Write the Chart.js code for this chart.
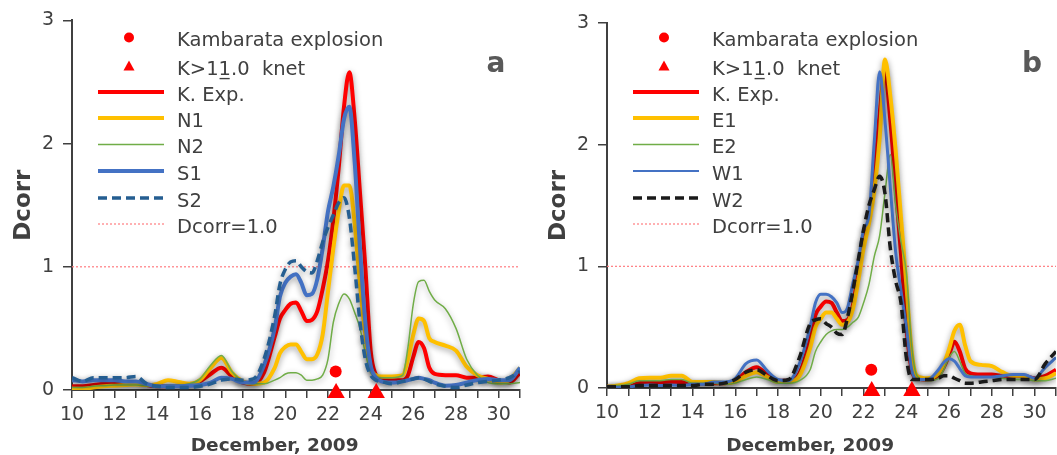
<!DOCTYPE html>
<html>
<head>
<meta charset="utf-8">
<script src="https://cdn.jsdelivr.net/npm/chart.js@4.4.0/dist/chart.umd.min.js"></script>
<style>
    html, body { margin: 0; padding: 0; background: #ffffff; overflow: hidden; width: 1057px; height: 455px; }
    canvas { position: absolute; top: 0; }
    #chartA { left: 0; }
    #chartB { left: 530px; }
</style>
</head>
<body>
<canvas id="chartA" width="530" height="455"></canvas>
<canvas id="chartB" width="536" height="455"></canvas>
<script>
// days of December 2009 (denser around the main event)
const days = [10, 10.5, 11, 11.5, 12, 12.5, 13, 13.5, 14, 14.5, 15, 15.5, 16, 16.5, 17, 17.5, 18, 18.5, 19, 19.5,
    19.75, 20, 20.25, 20.5, 20.75, 21, 21.25, 21.5, 21.75, 22, 22.25, 22.5, 22.75, 23, 23.25, 23.5, 23.75, 24, 24.25, 24.5,
    25, 25.5, 25.75, 26, 26.25, 26.5, 26.75, 27,
    27.5, 28, 28.5, 29, 29.5, 30, 30.5, 31];

// panel a
const kExpA = [0.03, 0.03, 0.04, 0.05, 0.05, 0.055, 0.05, 0.04, 0.03, 0.03, 0.035, 0.04, 0.07, 0.13, 0.18, 0.11, 0.06, 0.05, 0.14, 0.43,
    0.58, 0.65, 0.70, 0.71, 0.64, 0.56, 0.57, 0.64, 0.82, 1.05, 1.38, 1.8, 2.3, 2.58, 2.2, 1.6, 1.0, 0.32, 0.12, 0.08,
    0.08, 0.08, 0.12, 0.27, 0.39, 0.34, 0.18, 0.13,
    0.12, 0.12, 0.1, 0.1, 0.11, 0.08, 0.06, 0.14];
const n1 = [0.01, 0.01, 0.02, 0.03, 0.035, 0.04, 0.045, 0.04, 0.05, 0.08, 0.065, 0.05, 0.08, 0.18, 0.26, 0.14, 0.07, 0.05, 0.06, 0.18,
    0.3, 0.35, 0.37, 0.37, 0.31, 0.25, 0.25, 0.29, 0.45, 0.8, 1.15, 1.45, 1.66, 1.66, 1.35, 0.85, 0.45, 0.18, 0.12, 0.11,
    0.11, 0.12, 0.25, 0.45, 0.58, 0.56, 0.42, 0.39,
    0.36, 0.32, 0.19, 0.12, 0.09, 0.06, 0.08, 0.18];
const n2 = [0.02, 0.02, 0.03, 0.035, 0.04, 0.04, 0.04, 0.035, 0.03, 0.04, 0.04, 0.05, 0.09, 0.2, 0.28, 0.15, 0.07, 0.05, 0.05, 0.08,
    0.1, 0.13, 0.14, 0.14, 0.12, 0.08, 0.08, 0.09, 0.12, 0.25, 0.55, 0.7, 0.78, 0.74, 0.63, 0.5, 0.3, 0.14, 0.11, 0.1,
    0.1, 0.12, 0.35, 0.7, 0.88, 0.89, 0.8, 0.73,
    0.66, 0.5, 0.25, 0.12, 0.06, 0.05, 0.05, 0.06];
const s1 = [0.08, 0.07, 0.08, 0.08, 0.08, 0.07, 0.07, 0.05, 0.03, 0.03, 0.03, 0.035, 0.04, 0.06, 0.1, 0.09, 0.06, 0.06, 0.2, 0.5,
    0.76, 0.87, 0.92, 0.94, 0.87, 0.77, 0.78, 0.9, 1.15, 1.45, 1.65, 1.9, 2.2, 2.3, 1.85, 1.15, 0.55, 0.2, 0.1, 0.07,
    0.06, 0.07, 0.08, 0.09, 0.1, 0.09, 0.08, 0.06,
    0.035, 0.04, 0.06, 0.08, 0.09, 0.08, 0.08, 0.18];
const s2 = [0.1, 0.07, 0.1, 0.1, 0.1, 0.1, 0.11, 0.05, 0.03, 0.02, 0.02, 0.02, 0.03, 0.05, 0.08, 0.09, 0.08, 0.09, 0.25, 0.6,
    0.86, 0.98, 1.04, 1.05, 1.0, 0.96, 0.95, 1.05, 1.2, 1.32, 1.42, 1.52, 1.56, 1.4, 1.0, 0.55, 0.25, 0.12, 0.08, 0.07,
    0.05, 0.07, 0.08, 0.09, 0.1, 0.09, 0.07, 0.05,
    0.03, 0.02, 0.04, 0.06, 0.07, 0.08, 0.1, 0.15];

// panel b
const kExpB = [0.01, 0.01, 0.02, 0.04, 0.05, 0.05, 0.05, 0.05, 0.04, 0.04, 0.04, 0.04, 0.06, 0.13, 0.17, 0.11, 0.06, 0.06, 0.12, 0.4,
    0.6, 0.67, 0.71, 0.7, 0.62, 0.55, 0.56, 0.68, 0.95, 1.2, 1.38, 1.75, 2.25, 2.6, 2.2, 1.65, 1.1, 0.5, 0.15, 0.08,
    0.07, 0.1, 0.17, 0.27, 0.38, 0.3, 0.16, 0.12,
    0.11, 0.11, 0.1, 0.1, 0.1, 0.08, 0.1, 0.15];
const e1 = [0.01, 0.02, 0.04, 0.08, 0.085, 0.085, 0.1, 0.1, 0.05, 0.05, 0.05, 0.04, 0.05, 0.1, 0.13, 0.09, 0.05, 0.05, 0.1, 0.33,
    0.5, 0.57, 0.62, 0.62, 0.57, 0.52, 0.54, 0.65, 0.88, 1.15, 1.35, 1.62, 2.05, 2.7, 2.4, 1.95, 1.4, 0.85, 0.3, 0.1,
    0.08, 0.12, 0.2, 0.32, 0.47, 0.52, 0.35, 0.22,
    0.19, 0.18, 0.13, 0.1, 0.1, 0.07, 0.08, 0.12];
const e2 = [0.02, 0.02, 0.03, 0.06, 0.06, 0.06, 0.07, 0.07, 0.04, 0.04, 0.04, 0.03, 0.04, 0.07, 0.09, 0.07, 0.04, 0.04, 0.06, 0.15,
    0.3, 0.38, 0.44, 0.47, 0.48, 0.48, 0.5, 0.54, 0.58, 0.7, 0.85, 1.08, 1.25, 1.6, 1.92, 1.5, 1.2, 0.95, 0.35, 0.1,
    0.06, 0.08, 0.15, 0.25, 0.3, 0.22, 0.12, 0.1,
    0.09, 0.09, 0.08, 0.07, 0.07, 0.06, 0.06, 0.08];
const w1 = [0.01, 0.005, 0.01, 0.02, 0.025, 0.02, 0.025, 0.02, 0.03, 0.03, 0.05, 0.05, 0.08, 0.2, 0.23, 0.14, 0.07, 0.06, 0.2, 0.5,
    0.7, 0.77, 0.77, 0.75, 0.7, 0.62, 0.66, 0.86, 1.05, 1.3, 1.42, 2.02, 2.6, 2.2, 1.65, 1.12, 0.8, 0.5, 0.15, 0.07,
    0.07, 0.15, 0.21, 0.24, 0.22, 0.16, 0.1, 0.09,
    0.09, 0.09, 0.1, 0.11, 0.11, 0.08, 0.17, 0.25];
const w2 = [0.01, 0.01, 0.01, 0.02, 0.02, 0.02, 0.02, 0.02, 0.02, 0.03, 0.03, 0.04, 0.07, 0.13, 0.15, 0.1, 0.06, 0.07, 0.25, 0.53,
    0.56, 0.57, 0.53, 0.5, 0.45, 0.44, 0.58, 0.8, 1.05, 1.3, 1.5, 1.63, 1.74, 1.6, 1.15, 0.88, 0.7, 0.25, 0.07, 0.07,
    0.07, 0.08, 0.1, 0.1, 0.08, 0.06, 0.04, 0.04,
    0.05, 0.06, 0.07, 0.07, 0.07, 0.07, 0.2, 0.3];

// events
const explosionDays = [22.36];
const explosionLevels = [0.15];
const knetDays = [22.38, 24.26];
const knetLevels = [-0.025, -0.025];
const thresholdLevel = 1.0;

const dayRange = [10, 31];
const dcorrTicks = [0, 1, 2, 3];

const TEXT = '#404040';
const FONT = '"DejaVu Sans", Verdana, sans-serif';
Chart.defaults.font.family = FONT;
Chart.defaults.color = TEXT;

const toPoints = (xs, ys) => ys.map((y, i) => ({x: xs[i], y: y}));

const lineSet = (label, values, color, width, dash, order) =>
{
    return {
        type: 'line',
        label: label,
        data: toPoints(days, values),
        borderColor: color,
        backgroundColor: color,
        borderWidth: width,
        borderDash: dash || [],
        pointRadius: 0,
        cubicInterpolationMode: 'monotone',
        glow: true,
        order: order
    };
};

const eventSets = () =>
{
    return [
        {
            type: 'scatter',
            label: 'Kambarata explosion',
            data: toPoints(explosionDays, explosionLevels),
            pointStyle: 'circle',
            pointRadius: 6,
            backgroundColor: '#ff0000',
            borderColor: '#ff0000',
            borderWidth: 0,
            clip: false,
            order: 0
        },
        {
            type: 'scatter',
            label: 'K>11\u0332.0  knet',
            data: toPoints(knetDays, knetLevels),
            pointStyle: 'triangle',
            pointRadius: 10,
            backgroundColor: '#ff0000',
            borderColor: '#ff0000',
            borderWidth: 0,
            clip: false,
            order: 0
        }
    ];
};

const thresholdSet = () =>
{
    return {
        type: 'line',
        label: 'Dcorr=1.0',
        data: toPoints(dayRange, [thresholdLevel, thresholdLevel]),
        borderColor: '#ff7c80',
        borderWidth: 1.2,
        borderDash: [2, 2],
        pointRadius: 0,
        order: 10
    };
};

// grey halo round the curves, like the spreadsheet glow
const glowPlugin = {
    id: 'glow',
    beforeDatasetDraw(chart, args)
    {
        if (!chart.data.datasets[args.index].glow) return;
        const ctx = chart.ctx;
        ctx.save();
        ctx.shadowColor = 'rgba(0,0,0,0.4)';
        ctx.shadowBlur = 6;
        ctx.shadowOffsetY = 2;
    },
    afterDatasetDraw(chart, args)
    {
        if (!chart.data.datasets[args.index].glow) return;
        chart.ctx.restore();
    }
};

const legendRows = [37.5, 66.5, 92, 118, 144.5, 171, 198, 224];

const panelPlugin = {
    id: 'panel',
    afterDraw(chart, args, opts)
    {
        const ctx = chart.ctx;
        const area = chart.chartArea;
        const xScale = chart.scales.x;

        ctx.save();
        // legend
        ctx.font = '19.5px ' + FONT;
        ctx.textAlign = 'left';
        ctx.textBaseline = 'alphabetic';
        opts.order.forEach((dsIndex, i) =>
        {
            const ds = chart.data.datasets[dsIndex];
            const y = legendRows[i];
            if (ds.type === 'scatter')
            {
                ctx.fillStyle = ds.backgroundColor;
                ctx.beginPath();
                if (ds.pointStyle === 'circle')
                {
                    ctx.arc(area.left + 57, y, 5, 0, Math.PI * 2);
                }
                else
                {
                    ctx.moveTo(area.left + 57, y - 6);
                    ctx.lineTo(area.left + 62.5, y + 4);
                    ctx.lineTo(area.left + 51.5, y + 4);
                    ctx.closePath();
                }
                ctx.fill();
            }
            else
            {
                ctx.strokeStyle = ds.borderColor;
                ctx.lineWidth = ds.legendWidth || ds.borderWidth;
                ctx.setLineDash(ds.borderDash || []);
                ctx.beginPath();
                ctx.moveTo(area.left + 26, y);
                ctx.lineTo(area.left + 92, y);
                ctx.stroke();
                ctx.setLineDash([]);
            }
            ctx.fillStyle = TEXT;
            ctx.fillText(ds.label, area.left + 105, y + 8.5);
        });

        // panel letter
        ctx.font = 'bold 28px ' + FONT;
        ctx.fillStyle = '#595959';
        ctx.textAlign = 'center';
        ctx.fillText(opts.letter, area.right - 24, 72);

        // axis titles
        ctx.fillStyle = TEXT;
        ctx.font = 'bold 18.5px ' + FONT;
        ctx.fillText('December, 2009', xScale.getPixelForValue(19.5), 451);

        ctx.translate(area.left - 42, (area.top + area.bottom) / 2);
        ctx.rotate(-Math.PI / 2);
        ctx.font = 'bold 23px ' + FONT;
        ctx.fillText('Dcorr', 0, 0);
        ctx.restore();
    }
};

const makeOptions = (letter, yWidth, xHeight, padTop, padRight) =>
{
    return {
        responsive: false,
        animation: false,
        layout: {padding: {top: padTop, right: padRight, left: 0, bottom: 0}},
        plugins: {
            legend: {display: false},
            tooltip: {enabled: false},
            panel: {letter: letter, order: [0, 1, 2, 3, 4, 5, 6, 7]}
        },
        scales: {
            x: {
                type: 'linear',
                min: dayRange[0],
                max: dayRange[1],
                afterFit: (scale) => { scale.height = xHeight; },
                afterBuildTicks: (scale) =>
                {
                    const ticks = [];
                    for (let d = dayRange[0]; d <= dayRange[1]; d++) ticks.push({value: d});
                    scale.ticks = ticks;
                },
                ticks: {
                    autoSkip: false,
                    maxRotation: 0,
                    padding: 6,
                    font: {size: 19},
                    color: TEXT,
                    callback: (v) => (v % 2 === 0 && v <= 30) ? v : ''
                },
                grid: {drawOnChartArea: false, drawTicks: true, tickLength: 8, color: TEXT, lineWidth: 1.5},
                border: {display: true, color: TEXT, width: 2}
            },
            y: {
                type: 'linear',
                min: dcorrTicks[0],
                max: dcorrTicks[dcorrTicks.length - 1],
                afterFit: (scale) => { scale.width = yWidth; },
                afterBuildTicks: (scale) => { scale.ticks = dcorrTicks.map(v => ({value: v})); },
                ticks: {padding: 9, font: {size: 19}, color: TEXT},
                grid: {drawOnChartArea: false, drawTicks: true, tickLength: 9, color: TEXT, lineWidth: 1.5},
                border: {display: true, color: TEXT, width: 2}
            }
        }
    };
};

const datasetsA = [
    ...eventSets(),
    lineSet('K. Exp.', kExpA, '#ff0000', 4, null, 6),
    lineSet('N1', n1, '#ffc000', 4, null, 5),
    lineSet('N2', n2, '#70ad47', 1.5, null, 4),
    lineSet('S1', s1, '#4472c4', 4, null, 3),
    lineSet('S2', s2, '#255e91', 3.5, [9, 5], 2),
    thresholdSet()
];

const w1Set = lineSet('W1', w1, '#4472c4', 3, null, 3);
w1Set.legendWidth = 2;

const datasetsB = [
    ...eventSets(),
    lineSet('K. Exp.', kExpB, '#ff0000', 4, null, 6),
    lineSet('E1', e1, '#ffc000', 4, null, 5),
    lineSet('E2', e2, '#70ad47', 1.5, null, 4),
    w1Set,
    lineSet('W2', w2, '#1a1a1a', 3.5, [9, 5], 2),
    thresholdSet()
];

new Chart(document.getElementById('chartA'), {
    type: 'line',
    data: {datasets: datasetsA},
    options: makeOptions('a', 72, 65, 20, 2),
    plugins: [glowPlugin, panelPlugin]
});

new Chart(document.getElementById('chartB'), {
    type: 'line',
    data: {datasets: datasetsB},
    options: makeOptions('b', 77, 67, 23, 2),
    plugins: [glowPlugin, panelPlugin]
});
</script>
</body>
</html>
